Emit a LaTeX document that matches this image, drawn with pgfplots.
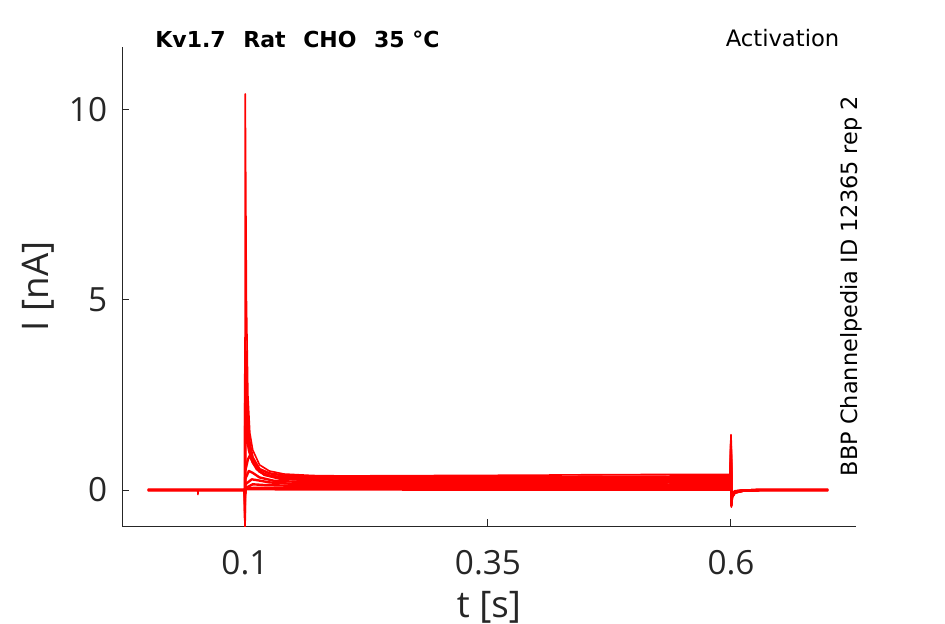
\documentclass[border=0pt]{standalone}
\usepackage{fontspec}
\setmainfont{DejaVu Sans}
\newfontfamily\labfont{Open Sans}
\usepackage{pgfplots}
\pgfplotsset{compat=1.18}
\definecolor{axgray}{HTML}{262626}
\pgfplotsset{tr/.style={color=red, line width=1.8pt, line join=round, mark=none, solid}}
\begin{document}
\begin{tikzpicture}
\begin{axis}[
  at={(0,0)}, anchor=south west,
  scale only axis, width=550.5pt, height=359.25pt,
  xmin=-0.0265, xmax=0.7286, ymin=-0.945, ymax=11.63,
  axis lines=left, axis line style={-, color=axgray, line width=0.75pt},
  tick align=inside, major tick length=5.6pt,
  tick style={color=axgray, line width=0.75pt},
  xtick={0.1,0.35,0.6}, xticklabels={0.1,0.35,0.6},
  ytick={0,5,10}, yticklabels={0,5,10},
  /pgf/number format/assume math mode=true,
  ticklabel style={font=\labfont\fontsize{25}{28}\selectfont, text=axgray},
  xticklabel style={inner sep=0pt, anchor=north, yshift=-18pt},
  yticklabel style={inner sep=0pt, anchor=east, xshift=-11pt},
  xlabel={t [s]}, ylabel={I [nA]},
  label style={font=\labfont\fontsize{27.5}{32}\selectfont, text=axgray},
  xlabel style={at={(rel axis cs:0.5,-0.19)}, anchor=base, inner sep=0pt},
  ylabel style={at={(rel axis cs:-0.1008,0.5)}, anchor=base, inner sep=0pt},
  clip mode=individual,
]
% trace 1
\addplot[tr, line width=1.2pt] coordinates {(0,0) (0.0514,0) (0.0516,-0.12) (0.0518,0) (0.0998,0) (0.1,-1.0) (0.1003,10.4) (0.1015,5.0) (0.103,2.5) (0.105,1.5) (0.108,1.05) (0.115,0.66) (0.125,0.5) (0.14,0.42) (0.17,0.38) (0.2,0.37) (0.25,0.375) (0.3,0.38) (0.35,0.385) (0.4,0.39) (0.45,0.4) (0.5,0.405) (0.55,0.41) (0.5995,0.41) (0.6,1.45) (0.6004,-0.45) (0.601,-0.2) (0.604,-0.08) (0.612,-0.02) (0.63,0) (0.7,0)};
% trace 2
\addplot[tr] coordinates {(0,0) (0.0998,0) (0.1,-0.8) (0.1003,4.0) (0.1015,2.6) (0.103,1.7) (0.105,1.2) (0.108,0.85) (0.115,0.55) (0.125,0.44) (0.14,0.38) (0.17,0.35) (0.25,0.34) (0.35,0.34) (0.45,0.35) (0.5995,0.36) (0.6,1.3) (0.6004,-0.42) (0.601,-0.19) (0.604,-0.07) (0.612,-0.02) (0.63,0) (0.7,0)};
% trace 3
\addplot[tr] coordinates {(0,0) (0.0998,0) (0.1,-0.6) (0.1003,3.0) (0.1015,2.0) (0.103,1.4) (0.105,1.0) (0.108,0.72) (0.115,0.48) (0.125,0.38) (0.14,0.33) (0.17,0.31) (0.3,0.30) (0.45,0.31) (0.5995,0.32) (0.6,1.15) (0.6004,-0.4) (0.601,-0.18) (0.604,-0.07) (0.612,-0.02) (0.63,0) (0.7,0)};
% trace 4
\addplot[tr] coordinates {(0,0) (0.0998,0) (0.1,-0.4) (0.1003,2.2) (0.102,1.4) (0.104,1.05) (0.107,0.78) (0.112,0.55) (0.12,0.4) (0.135,0.32) (0.17,0.28) (0.3,0.27) (0.45,0.27) (0.5995,0.28) (0.6,1.0) (0.6004,-0.38) (0.601,-0.17) (0.604,-0.06) (0.612,-0.02) (0.63,0) (0.7,0)};
% trace 5
\addplot[tr] coordinates {(0,0) (0.0998,0) (0.1,-0.3) (0.1003,0.5) (0.103,0.8) (0.105,0.9) (0.108,0.75) (0.113,0.55) (0.12,0.4) (0.135,0.3) (0.17,0.25) (0.3,0.23) (0.45,0.23) (0.5995,0.24) (0.6,0.9) (0.6004,-0.35) (0.601,-0.16) (0.604,-0.06) (0.612,-0.02) (0.63,0) (0.7,0)};
% trace 6
\addplot[tr] coordinates {(0,0) (0.0998,0) (0.1,-0.2) (0.1005,0.3) (0.104,0.5) (0.108,0.45) (0.115,0.33) (0.13,0.24) (0.17,0.2) (0.3,0.19) (0.45,0.19) (0.5995,0.2) (0.6,0.8) (0.6004,-0.33) (0.601,-0.15) (0.604,-0.05) (0.612,-0.02) (0.63,0) (0.7,0)};
% trace 7
\addplot[tr] coordinates {(0,0) (0.0998,0) (0.1,-0.15) (0.1005,0.15) (0.107,0.28) (0.112,0.26) (0.125,0.2) (0.15,0.16) (0.3,0.14) (0.45,0.14) (0.5995,0.15) (0.6,0.7) (0.6004,-0.3) (0.601,-0.14) (0.604,-0.05) (0.612,-0.02) (0.63,0) (0.7,0)};
% trace 8
\addplot[tr] coordinates {(0,0) (0.0998,0) (0.1,-0.1) (0.1005,0.05) (0.108,0.15) (0.12,0.13) (0.15,0.11) (0.3,0.1) (0.45,0.1) (0.5995,0.1) (0.6,0.6) (0.6004,-0.28) (0.601,-0.13) (0.604,-0.04) (0.612,-0.01) (0.63,0) (0.7,0)};
% trace 9
\addplot[tr] coordinates {(0,0) (0.0998,0) (0.1,-0.1) (0.1005,0.03) (0.11,0.06) (0.3,0.05) (0.45,0.05) (0.5995,0.05) (0.6,0.5) (0.6004,-0.25) (0.601,-0.12) (0.604,-0.04) (0.612,-0.01) (0.63,0) (0.7,0)};
% trace 10
\addplot[tr] coordinates {(0,0) (0.0998,0) (0.1,-0.1) (0.1005,0.02) (0.3,0.01) (0.45,0.01) (0.5995,0.01) (0.6,0.4) (0.6004,-0.2) (0.601,-0.1) (0.604,-0.03) (0.612,-0.01) (0.63,0) (0.7,0)};
\node[font=\bfseries\fontsize{16.5}{19}\selectfont, anchor=center, inner sep=0pt] at (rel axis cs:0.2391,1.0157) {Kv1.7\hspace{0.8em}Rat\hspace{0.8em}CHO\hspace{0.8em}35 °C};
\node[font=\fontsize{17}{20}\selectfont, anchor=center, inner sep=0pt] at (rel axis cs:0.8999,1.0188) {Activation};
\node[font=\fontsize{16.8}{20}\selectfont, rotate=90, anchor=base, inner sep=0pt] at (rel axis cs:1.0014,0.501) {BBP Channelpedia ID 12365 rep 2};
\end{axis}
\path[use as bounding box] (-91.5pt,-73.5pt) rectangle (617.25pt,394.5pt);
\end{tikzpicture}
\end{document}
